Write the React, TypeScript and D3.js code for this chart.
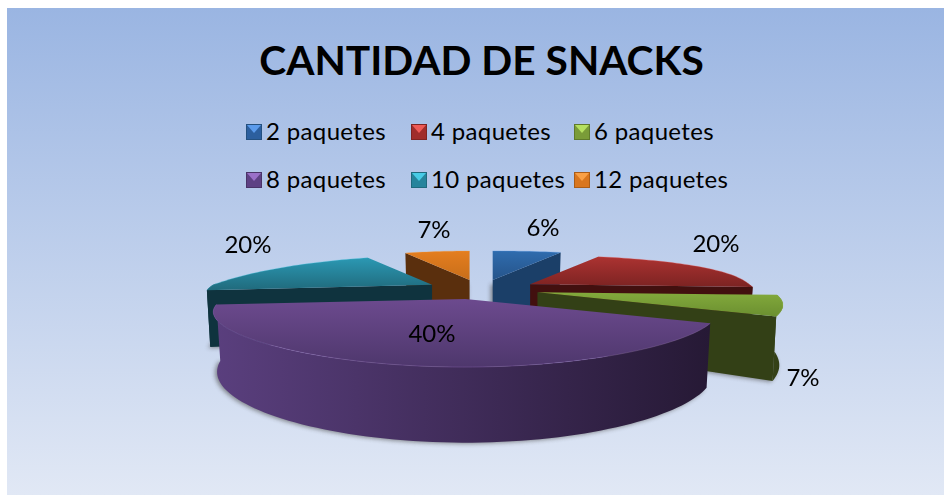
import React from "react";
import * as d3 from "d3";

const title = "CANTIDAD DE SNACKS";
const categories = ["2 paquetes", "4 paquetes", "6 paquetes", "8 paquetes", "10 paquetes", "12 paquetes"];
const percents = [6, 20, 7, 40, 20, 7];
const topColors = [["#2f6cae", "#26548a"], ["#ac3331", "#7c2322"], ["#83aa3c", "#6b8f30"], ["#6c4a8e", "#4e376c"], ["#2b98b3", "#206a7c"], ["#e47e1f", "#c86e1a"]];
const faceColors = ["#1b3f68", "#42100f", "#334016", "#2c1d40", "#0f333e", "#5a2f0d"];
const rimColors = [["#1b3f68", "#1b3f68"], ["#42100f", "#42100f"], ["#344117", "#2e3913"], ["#5a3f7e", "#261935"], ["#0f333e", "#0f333e"], ["#5a2f0d", "#5a2f0d"]];
const swatchLight = ["#5b9bec", "#ee5a56", "#b5e060", "#9a70c8", "#46cbe6", "#f9a046"];
const swatchMid = ["#2c5f9e", "#a02d2b", "#7a9c38", "#5e4184", "#25849c", "#d9761e"];
const swatchEdge = ["#24507f", "#7f2422", "#5f7a2b", "#4a3468", "#1e6a7e", "#ab5d17"];

const legendX = [246, 411, 574];
const legendY = [132, 180];
const labelAnchors = [[543, 236], [716, 252], [803, 386], [432, 342], [248, 253], [434, 238]];

const cx = 482, cy = 289.5;
const radius = 219, flat = 40.7, explodeX = 57, explodeY = 9.7;
const perspFarRight = 0.2, perspFarLeft = 0.5, perspNear = 0.28, perspY = 0.402;
const nearBoost = 0.105, nearPull = 0.6;
const depthBase = 54, depthSkew = 0.4;

const pieGen = d3.pie<number>().sort(null).value((d) => d);
const arcs = pieGen(percents);

type Pt = [number, number];
const offset = (a: number, boost: number): Pt => {
  const u = Math.sin(a), v = Math.cos(a);
  const k = v > 0 ? (u < 0 ? perspFarLeft : perspFarRight) : perspNear;
  const sx = 1 / (1 + k * v);
  const sy = 1 / (1 + perspY * v);
  return [radius * boost * u * sx, -flat * v * sy];
};
const depth = (a: number) => depthBase * (1 - depthSkew * Math.cos(a));
const sampleAngles = (a: number, b: number) => {
  const n = Math.max(2, Math.ceil((b - a) / 0.03));
  return d3.range(n + 1).map((i) => a + ((b - a) * i) / n);
};
const line = d3.line<Pt>().x((d) => d[0]).y((d) => d[1]);
const poly = (p: Pt[]) => line(p)! + "Z";

const slices = arcs.map((arc, i) => {
  const mid = (arc.startAngle + arc.endAngle) / 2;
  const near = Math.max(0, -Math.cos(mid));
  const pull = 1 + nearPull * near * near * near;
  const boost = 1 + nearBoost * Math.pow(near, 0.25);
  const apex: Pt = [cx + explodeX * pull * Math.sin(mid), cy - explodeY * Math.cos(mid)];
  const rimAt = (a: number): Pt => { const o = offset(a, boost); return [apex[0] + o[0], apex[1] + o[1]]; };
  const lowAt = (a: number): Pt => { const o = offset(a, boost); return [apex[0] + o[0] * 0.985, apex[1] + o[1] + depth(a)]; };
  const angles = sampleAngles(arc.startAngle, arc.endAngle);
  const top = poly([apex, ...angles.map(rimAt)]);
  const apexLow: Pt = [apex[0], apex[1] + depthBase];
  const faces: string[] = [];
  if (Math.sin(arc.startAngle) < 0) faces.push(poly([apex, rimAt(arc.startAngle), lowAt(arc.startAngle), apexLow]));
  if (Math.sin(arc.endAngle) > 0) faces.push(poly([apex, rimAt(arc.endAngle), lowAt(arc.endAngle), apexLow]));
  const front = angles.filter((a) => Math.cos(a) < 0.05);
  const rim = front.length > 1 ? poly([...front.map(rimAt), ...front.slice().reverse().map(lowAt)]) : null;
  const rimEdge = line(angles.map(rimAt))!;
  const base = poly([[apex[0], apexLow[1]], ...angles.map(lowAt)]);
  const xs = angles.map((a) => rimAt(a)[0]);
  const ys = angles.map((a) => rimAt(a)[1]).concat(apex[1]);
  return { i, apex, top, faces, rim, rimEdge, base, x0: d3.min(xs)!, x1: d3.max(xs)!, y0: d3.min(ys)!, y1: d3.max(ys)! };
});
const drawOrder = slices.slice().sort((a, b) => d3.ascending(a.apex[1], b.apex[1]));

const FONT = "Lato, Carlito, sans-serif";

function Swatch({ x, y, i }: { x: number; y: number; i: number }) {
  const s = 16, h = s / 2;
  return (
    <g transform={`translate(${x},${y - h})`}>
      <rect x={0.5} y={0.5} width={s - 1} height={s - 1} fill={swatchMid[i]} stroke={swatchEdge[i]} />
      <path d={poly([[1, 1], [s - 1, 1], [h, h + 1]])} fill={swatchLight[i]} />
    </g>
  );
}

export default function App() {
  return (
    <svg width={944} height={495} style={{ position: "absolute", left: 0, top: 0, background: "#fff" }}>
      <defs>
        <linearGradient id="bg" x1="0" y1="0" x2="0" y2="1">
          <stop offset="0" stopColor="#9ab5e2" />
          <stop offset="1" stopColor="#e1e8f5" />
        </linearGradient>
        <filter id="soft" x="-10%" y="-10%" width="120%" height="130%">
          <feGaussianBlur stdDeviation="2.2" />
        </filter>
        {slices.map((s) => (
          <linearGradient key={s.i} id={`top${s.i}`} gradientUnits="userSpaceOnUse" x1={0} x2={0} y1={s.y0} y2={s.y1}>
            <stop offset="0" stopColor={topColors[s.i][0]} />
            <stop offset="1" stopColor={topColors[s.i][1]} />
          </linearGradient>
        ))}
        {slices.map((s) => (
          <linearGradient key={s.i} id={`rim${s.i}`} gradientUnits="userSpaceOnUse" x1={s.x0} x2={s.x1} y1={0} y2={0}>
            <stop offset="0" stopColor={rimColors[s.i][0]} />
            <stop offset="1" stopColor={rimColors[s.i][1]} />
          </linearGradient>
        ))}
      </defs>
      <rect x={7} y={8} width={937} height={487} fill="url(#bg)" />

      <text x={481.5} y={75} textAnchor="middle" fontFamily={FONT} fontWeight={700} fontSize={40.7} fill="#000">{title}</text>

      {categories.map((c, i) => {
        const row = Math.floor(i / 3), col = i % 3;
        return (
          <g key={c}>
            <Swatch x={legendX[col]} y={legendY[row]} i={i} />
            <text x={legendX[col] + 20} y={legendY[row] + 8} fontFamily={FONT} fontSize={24} letterSpacing={0.35} fill="#000">{c}</text>
          </g>
        );
      })}

      <g filter="url(#soft)" opacity={0.65}>
        {drawOrder.map((s) => (
          <path key={s.i} d={s.base} fill="#555" transform="translate(-2,1)" />
        ))}
      </g>

      {drawOrder.map((s) => (
        <g key={s.i}>
          {s.faces.map((d, j) => <path key={j} d={d} fill={faceColors[s.i]} />)}
          {s.rim && <path d={s.rim} fill={`url(#rim${s.i})`} />}
          <path d={s.top} fill={`url(#top${s.i})`} />
          <path d={s.rimEdge} fill="none" stroke={swatchLight[s.i]} strokeOpacity={0.3} strokeWidth={1} />
        </g>
      ))}

      {percents.map((p, i) => (
        <text key={i} x={labelAnchors[i][0]} y={labelAnchors[i][1]} textAnchor="middle" fontFamily={FONT} fontSize={24} fill="#000">{p}%</text>
      ))}
    </svg>
  );
}
